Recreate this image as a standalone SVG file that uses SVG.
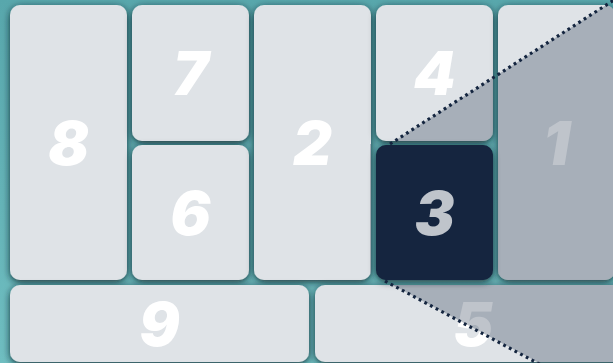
<svg xmlns="http://www.w3.org/2000/svg" width="613" height="363" viewBox="0 0 613 363">
  <defs>
    <linearGradient id="bg" x1="0" y1="0" x2="0" y2="1">
      <stop offset="0" stop-color="#58a7ac"/>
      <stop offset="1" stop-color="#6fbec1"/>
    </linearGradient>
    <filter id="sh" x="-20%" y="-20%" width="140%" height="140%">
      <feDropShadow dx="0" dy="2" stdDeviation="3.5" flood-color="#0c2227" flood-opacity="0.85"/>
    </filter>
    <clipPath id="tiles">
      <rect x="10" y="5" width="117" height="275" rx="10"/>
      <rect x="132" y="5" width="117" height="136" rx="10"/>
      <rect x="132" y="145" width="117" height="135" rx="10"/>
      <rect x="254" y="5" width="117" height="275" rx="10"/>
      <rect x="376" y="5" width="117" height="136" rx="10"/>
      <rect x="376" y="145" width="117" height="135" rx="10"/>
      <rect x="498" y="5" width="117" height="275" rx="10"/>
      <rect x="10" y="285" width="299" height="77" rx="10"/>
      <rect x="315" y="285" width="316" height="77" rx="10"/>
    </clipPath>
  </defs>
  <style>
    .tile { fill: #dfe3e7; filter: url(#sh); }
    .dark { fill: #14253f; filter: url(#sh); }
    .num { font-family: Inter, "Liberation Sans", sans-serif; font-weight: 900; font-style: italic; font-size: 60px; fill: #ffffff; text-anchor: middle; }
    .dots { stroke: #14253f; stroke-width: 3.2; stroke-dasharray: 2.8 3.6; fill: none; }
  </style>
  <rect x="0" y="0" width="613" height="363" fill="url(#bg)"/>

  <g id="node-8"><rect class="tile" x="10" y="5" width="117" height="275" rx="10"/><text class="num" x="68.5" y="164.5">8</text></g>
  <g id="node-7"><rect class="tile" x="132" y="5" width="117" height="136" rx="10"/><text class="num" x="190.5" y="95">7</text></g>
  <g id="node-6"><rect class="tile" x="132" y="145" width="117" height="135" rx="10"/><text class="num" x="190.5" y="234.5">6</text></g>
  <g id="node-2"><rect class="tile" x="254" y="5" width="117" height="275" rx="10"/><text class="num" x="312.5" y="164.5">2</text></g>
  <g id="node-4"><rect class="tile" x="376" y="5" width="117" height="136" rx="10"/><text class="num" x="434.5" y="95">4</text></g>
  <g id="node-1"><rect class="tile" x="498" y="5" width="117" height="275" rx="10"/><text class="num" x="556.5" y="164.5">1</text></g>
  <g id="node-9"><rect class="tile" x="10" y="285" width="299" height="77" rx="10"/><text class="num" x="159.5" y="345.5">9</text></g>
  <g id="node-5"><rect class="tile" x="315" y="285" width="316" height="77" rx="10"/><text class="num" x="473" y="345.5">5</text></g>
  <g id="node-3"><rect class="dark" x="376" y="145" width="117" height="135" rx="10"/><text class="num" x="434.5" y="234.5">3</text></g>

  <g id="overlay" clip-path="url(#tiles)">
    <polygon points="390,144 614,0 640,0 640,363 539,363 385,281 370,281 370,144" fill="#14253f" fill-opacity="0.27"/>
  </g>

  <g id="connectors">
    <line class="dots" x1="390" y1="144" x2="614" y2="0"/>
    <line class="dots" x1="385" y1="281" x2="541" y2="365"/>
  </g>
</svg>
